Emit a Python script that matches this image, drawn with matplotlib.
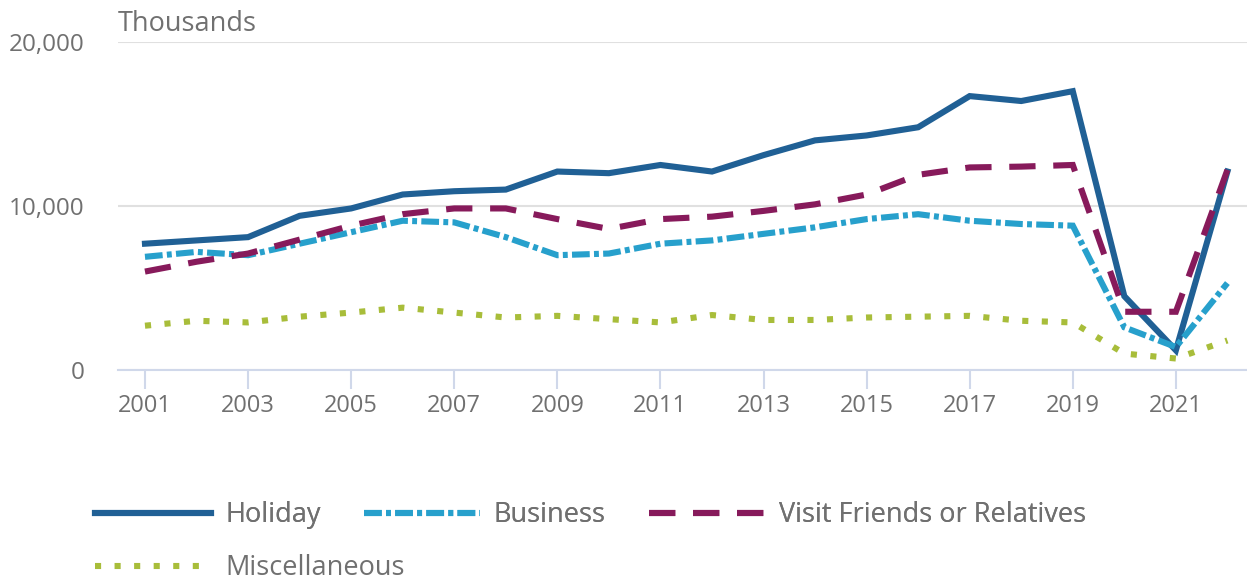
import matplotlib
matplotlib.use("Agg")
import matplotlib.pyplot as plt
from matplotlib.ticker import FuncFormatter

plt.rcParams['font.family'] = ['Open Sans', 'DejaVu Sans']

years = list(range(2001, 2023))
holiday = [7.7, 7.9, 8.1, 9.4, 9.85, 10.7, 10.9, 11.0, 12.1, 12.0, 12.5, 12.1,
           13.1, 14.0, 14.3, 14.8, 16.7, 16.4, 17.0, 4.5, 1.2, 12.1]
business = [6.9, 7.2, 7.0, 7.7, 8.4, 9.1, 9.0, 8.1, 7.0, 7.1, 7.7, 7.9,
            8.3, 8.7, 9.2, 9.5, 9.1, 8.9, 8.8, 2.6, 1.4, 5.3]
vfr = [6.0, 6.6, 7.1, 7.95, 8.8, 9.5, 9.85, 9.85, 9.2, 8.6, 9.2, 9.35,
       9.7, 10.1, 10.7, 11.9, 12.35, 12.4, 12.5, 3.55, 3.55, 12.2]
misc = [2.7, 3.0, 2.9, 3.25, 3.5, 3.8, 3.5, 3.2, 3.3, 3.1, 2.9, 3.35,
        3.05, 3.05, 3.2, 3.25, 3.3, 3.0, 2.9, 1.0, 0.7, 1.8]
# values above are in millions -> shown as thousands
labels = ['Holiday', 'Business', 'Visit Friends or Relatives', 'Miscellaneous']
colors = ['#206095', '#27a0cc', '#871a5b', '#a8bd3a']
xticks = list(range(2001, 2022, 2))

text_col = '#707070'
lw = 4.4

fig = plt.figure(figsize=(12.47, 5.79), dpi=100)
ax = fig.add_axes([0.0946, 0.361, 0.9054, 0.5665])

series = [holiday, business, vfr, misc]
styles = [
    dict(linestyle='-'),
    dict(linestyle=(0, (2.9, 0.7, 0.8, 0.7))),
    dict(linestyle=(0, (4.3, 2.9))),
    dict(linestyle=(0, (1.0, 2.2))),
]
handles = []
for vals, lab, c, st in zip(series, labels, colors, styles):
    h, = ax.plot(years, [v * 1000 for v in vals], color=c, lw=lw, label=lab,
                 solid_joinstyle='miter', dash_joinstyle='miter', **st)
    handles.append(h)

ax.set_xlim(2000.476, 2022.38)
ax.set_ylim(0, 20000)
ax.set_yticks([0, 10000, 20000])
ax.yaxis.set_major_formatter(FuncFormatter(lambda v, p: f'{int(v):,}'))
ax.set_xticks(xticks)
ax.grid(axis='y', color='#e0e0e0', lw=1.5)
ax.set_axisbelow(True)
for s in ['top', 'right', 'left']:
    ax.spines[s].set_visible(False)
ax.spines['bottom'].set_color('#d0d8ea')
ax.spines['bottom'].set_linewidth(1.5)
ax.tick_params(axis='x', colors='#d0d8ea', length=14, width=1.5, pad=3,
               labelcolor=text_col, labelsize=17)
ax.tick_params(axis='y', length=0, pad=24, labelcolor=text_col, labelsize=17.5)

fig.text(0.0946, 0.935, 'Thousands', color=text_col, fontsize=19.5,
         ha='left', va='bottom')

# legend is a flowing layout: three entries on row one, one on row two
leg_kw = dict(loc='center left', frameon=False, fontsize=19.5,
              labelcolor=text_col, handlelength=4.3, handletextpad=0.5,
              columnspacing=1.6, borderpad=0, borderaxespad=0)
leg1 = fig.legend(handles[:3], labels[:3], ncol=3,
                  bbox_to_anchor=(0.0762, 1 - 515 / 579), **leg_kw)
fig.add_artist(leg1)
fig.legend(handles[3:], labels[3:], ncol=1,
           bbox_to_anchor=(0.0762, 1 - 568 / 579), **leg_kw)

fig.savefig('out.png', dpi=100)
